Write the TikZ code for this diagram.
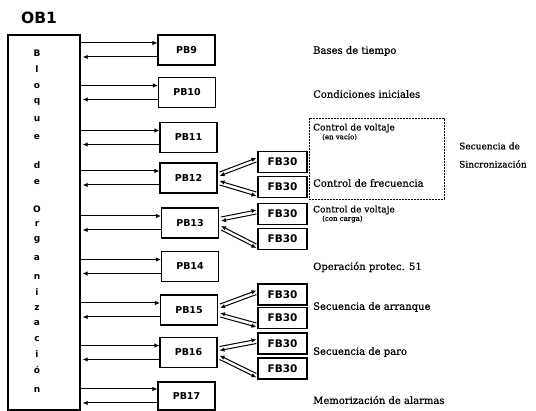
\documentclass[tikz,border=0pt]{standalone}
\usepackage{fontspec}
\setmainfont{DejaVu Serif}
\newfontfamily\lblfont{DejaVu Serif}[BoldFont={DejaVu Serif},BoldFeatures={FakeBold=0.6}]
\newfontfamily\sansf{DejaVu Sans}
\usetikzlibrary{calc,arrows.meta}
\begin{document}
\begin{tikzpicture}[x=1pt,y=-1pt,
  pb/.style={draw, line width=1.1pt, minimum width=57pt, minimum height=30pt, inner sep=0pt,
             font=\sansf\bfseries\fontsize{9.5}{10}\selectfont},
  fbx/.style={draw, line width=1.1pt, minimum width=49pt, minimum height=21pt, inner sep=0pt,
             font=\sansf\bfseries\fontsize{10.5}{11}\selectfont},
  arr/.style={line width=1pt, -{Latex[length=5pt,width=4.5pt]}},
  lbl/.style={anchor=west, inner sep=0pt, font=\lblfont\bfseries\fontsize{10}{11}\selectfont},
  lblsm/.style={anchor=west, inner sep=0pt, font=\lblfont\bfseries\fontsize{9}{10}\selectfont},
  lbltiny/.style={anchor=west, inner sep=0pt, font=\lblfont\bfseries\fontsize{7}{8}\selectfont},
  vlet/.style={inner sep=0pt, font=\sansf\bfseries\fontsize{9}{10}\selectfont}
]
\useasboundingbox (0,0) rectangle (536,411);

% title and main block
\node[anchor=west, inner sep=0pt, font=\sansf\bfseries\fontsize{15.5}{16}\selectfont] (title) at (21,18) {OB1};
\node[draw, line width=1.4pt, minimum width=72pt, minimum height=375pt, inner sep=0pt] (ob) at (44,222.5) {};

\foreach \t/\yy [count=\i] in {B/53, l/69, o/86, q/102, u/119, e/137, d/165, e/182, O/209, r/224, g/240, a/258, n/277, i/292, z/308, a/323, c/339, i/354, ó/370, n/390}
  \node[vlet] (let\i) at (37,\yy) {\t};

% PB blocks
\node[pb] (pb9)  at (186.5,50)   {PB9};
\node[pb] (pb10) at (187,92.5)   {PB10};
\node[pb] (pb11) at (188.5,137.5){PB11};
\node[pb] (pb12) at (188.5,178)  {PB12};
\node[pb] (pb13) at (190,223)    {PB13};
\node[pb] (pb14) at (190,266.5)  {PB14};
\node[pb] (pb15) at (189,310)    {PB15};
\node[pb] (pb16) at (188.5,352.5){PB16};
\node[pb, minimum height=28pt] (pb17) at (186.5,396) {PB17};

% FB30 blocks
\node[fbx] (fb1) at (282.5,162)   {FB30};
\node[fbx] (fb2) at (282.5,187)   {FB30};
\node[fbx] (fb3) at (282.5,214)   {FB30};
\node[fbx] (fb4) at (282.5,239)   {FB30};
\node[fbx] (fb5) at (282.5,294.5) {FB30};
\node[fbx] (fb6) at (282.5,318)   {FB30};
\node[fbx] (fb7) at (282.5,343.5) {FB30};
\node[fbx] (fb8) at (282.5,368.5) {FB30};

% OB1 <-> PB connectors
\foreach \p in {pb9,pb10,pb11,pb12,pb13,pb14,pb15,pb16,pb17} {
  \draw[arr] ($(ob.east |- \p.west)+(0,-7)$) -- ($(\p.west)+(0,-7)$);
  \draw[arr] ($(\p.west)+(0,7)$) -- ($(ob.east |- \p.west)+(2,7)$);
}

% PB <-> FB30 connectors
\foreach \p/\a/\b in {pb12/fb1/fb2, pb13/fb3/fb4, pb15/fb5/fb6, pb16/fb7/fb8} {
  \draw[arr] ($(\p.east)+(2,-6)$) -- ($(\a.west)+(-1,-4)$);
  \draw[arr] ($(\a.west)+(-1,0)$) -- ($(\p.east)+(2,-2)$);
  \draw[arr] ($(\b.west)+(-1,5)$) -- ($(\p.east)+(2,3)$);
  \draw[arr] ($(\p.east)+(2,7)$) -- ($(\b.west)+(-1,9)$);
}

% group frame
\node[draw, dashed, dash pattern=on 2pt off 1pt, line width=0.8pt, minimum width=135pt, minimum height=81pt, inner sep=0pt] (grp) at (376.5,158.5) {};

% labels
\node[lbl] (t1) at (313,51) {Bases de tiempo};
\node[lbl] (t2) at (313,94) {Condiciones iniciales};
\node[lblsm] (t3) at (313,128) {Control de voltaje};
\node[lbltiny] (t3b) at (322,137) {(en vacío)};
\node[lbl] (t4) at (313,183) {Control de frecuencia};
\node[lblsm] (s1) at (459,146) {Secuencia de};
\node[lblsm] (s2) at (459,164) {Sincronización};
\node[lblsm] (t5) at (313,210) {Control de voltaje};
\node[lbltiny] (t5b) at (322,219) {(con carga)};
\node[lbl] (t6) at (313,267) {Operación protec. 51};
\node[lbl] (t7) at (313,307) {Secuencia de arranque};
\node[lbl] (t8) at (313,352) {Secuencia de paro};
\node[lbl] (t9) at (313,400) {Memorización de alarmas};
\end{tikzpicture}
\end{document}
